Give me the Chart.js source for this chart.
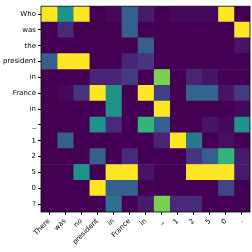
<!DOCTYPE html>
<html>
<head>
<meta charset="utf-8">
<script src="https://cdn.jsdelivr.net/npm/chart.js@4.4.1/dist/chart.umd.min.js"></script>
<style>
  html, body { margin: 0; padding: 0; background: #fff; }
  #wrap { width: 252px; height: 252px; }
</style>
</head>
<body>
<div id="wrap"><canvas id="attn"></canvas></div>
<script>
/* tokens: question rows, context columns */
const rowLabels = ['Who', 'was', 'the', 'president', 'in', 'France', 'in', '_', '1', '2', '5', '0', '?'];
const colLabels = ['There', 'was', 'no', 'president', 'in', 'France', 'in', '_', '1', '2', '5', '0', '.'];

/* attention weights, one array per row (0..1) */
const weights = [
  [1.00, 0.50, 1.00, 0.00, 0.02, 0.30, 0.07, 0.00, 0.02, 0.02, 0.02, 1.00, 0.00],
  [0.00, 0.12, 0.00, 0.00, 0.00, 0.30, 0.00, 0.00, 0.00, 0.00, 0.00, 0.00, 1.00],
  [0.00, 0.00, 0.00, 0.00, 0.00, 0.00, 0.30, 0.00, 0.00, 0.00, 0.00, 0.00, 0.05],
  [0.30, 1.00, 1.00, 0.00, 0.00, 0.10, 0.15, 0.00, 0.00, 0.00, 0.00, 0.00, 0.00],
  [0.00, 0.00, 0.00, 0.10, 0.10, 0.17, 0.00, 0.80, 0.00, 0.10, 0.05, 0.00, 0.00],
  [0.00, 0.02, 0.15, 1.00, 0.50, 0.00, 1.00, 0.18, 0.00, 0.32, 0.32, 0.05, 0.17],
  [0.00, 0.00, 0.00, 0.00, 0.50, 0.00, 0.00, 1.00, 0.00, 0.00, 0.00, 0.00, 0.02],
  [0.00, 0.00, 0.00, 0.50, 0.12, 0.00, 0.65, 0.30, 0.00, 0.00, 0.05, 0.02, 0.50],
  [0.00, 0.30, 0.00, 0.00, 0.00, 0.00, 0.00, 0.10, 1.00, 0.40, 0.00, 0.04, 0.00],
  [0.00, 0.00, 0.00, 0.30, 0.00, 0.12, 0.00, 0.00, 0.00, 0.15, 0.30, 0.65, 0.07],
  [0.00, 0.00, 0.50, 0.00, 1.00, 1.00, 0.05, 0.00, 0.00, 1.00, 1.00, 1.00, 0.07],
  [0.00, 0.00, 0.00, 1.00, 0.30, 0.30, 0.00, 0.00, 0.00, 0.00, 0.00, 0.20, 0.00],
  [0.00, 0.00, 0.00, 0.00, 0.37, 0.00, 0.07, 0.80, 0.12, 0.12, 0.00, 0.00, 0.00],
];

/* ─── viridis colormap ─── */
const VIRIDIS = ['#440154', '#482475', '#414487', '#355f8d', '#2a788e', '#21918c',
                 '#22a884', '#44bf70', '#7ad151', '#bddf26', '#fde725'];

function hexRgb(h) {
  return [1, 3, 5].map(i => parseInt(h.slice(i, i + 2), 16));
}

function viridis(t) {
  t = Math.max(0, Math.min(1, t));
  const p = t * (VIRIDIS.length - 1);
  const i = Math.min(Math.floor(p), VIRIDIS.length - 2);
  const f = p - i;
  const a = hexRgb(VIRIDIS[i]), b = hexRgb(VIRIDIS[i + 1]);
  const c = a.map((v, k) => Math.round(v + (b[k] - v) * f));
  return `rgb(${c[0]},${c[1]},${c[2]})`;
}

/* each column is one stacked dataset, one unit wide per token */
const datasets = colLabels.map((c, j) => ({
  label: c,
  data: rowLabels.map(() => 1),
  backgroundColor: rowLabels.map((_, i) => viridis(weights[i][j])),
  borderWidth: 0,
  categoryPercentage: 1,
  barPercentage: 1,
}));

/* black frame round the matrix */
const frame = {
  id: 'frame',
  afterDatasetsDraw(chart) {
    const { ctx, chartArea: a } = chart;
    ctx.save();
    ctx.strokeStyle = '#000';
    ctx.lineWidth = 0.8;
    ctx.strokeRect(a.left, a.top, a.right - a.left, a.bottom - a.top);
    ctx.restore();
  },
};

const FONT = { family: 'DejaVu Sans', size: 7 };

new Chart(document.getElementById('attn'), {
  type: 'bar',
  data: { labels: rowLabels, datasets },
  plugins: [frame],
  options: {
    indexAxis: 'y',
    responsive: true,
    maintainAspectRatio: false,
    animation: false,
    layout: { padding: { top: 3, right: 2, left: 0, bottom: 0 } },
    plugins: { legend: { display: false }, tooltip: { enabled: false } },
    scales: {
      x: {
        type: 'linear',
        stacked: true,
        min: 0,
        max: colLabels.length,
        afterBuildTicks: s => { s.ticks = colLabels.map((_, i) => ({ value: i + 0.5 })); },
        afterFit: s => { s.height = 40; },
        grid: { drawOnChartArea: false, drawTicks: true, tickLength: 3, color: '#000' },
        border: { display: false },
        ticks: {
          autoSkip: false,
          maxRotation: 45,
          minRotation: 45,
          padding: 2,
          color: '#000',
          font: FONT,
          callback: (v, i) => colLabels[i],
        },
      },
      y: {
        stacked: true,
        afterFit: s => { s.width = 41; },
        grid: { drawOnChartArea: false, drawTicks: true, tickLength: 3, color: '#000', offset: false },
        border: { display: false },
        ticks: { autoSkip: false, padding: 2, color: '#000', font: FONT },
      },
    },
  },
});
</script>
</body>
</html>
